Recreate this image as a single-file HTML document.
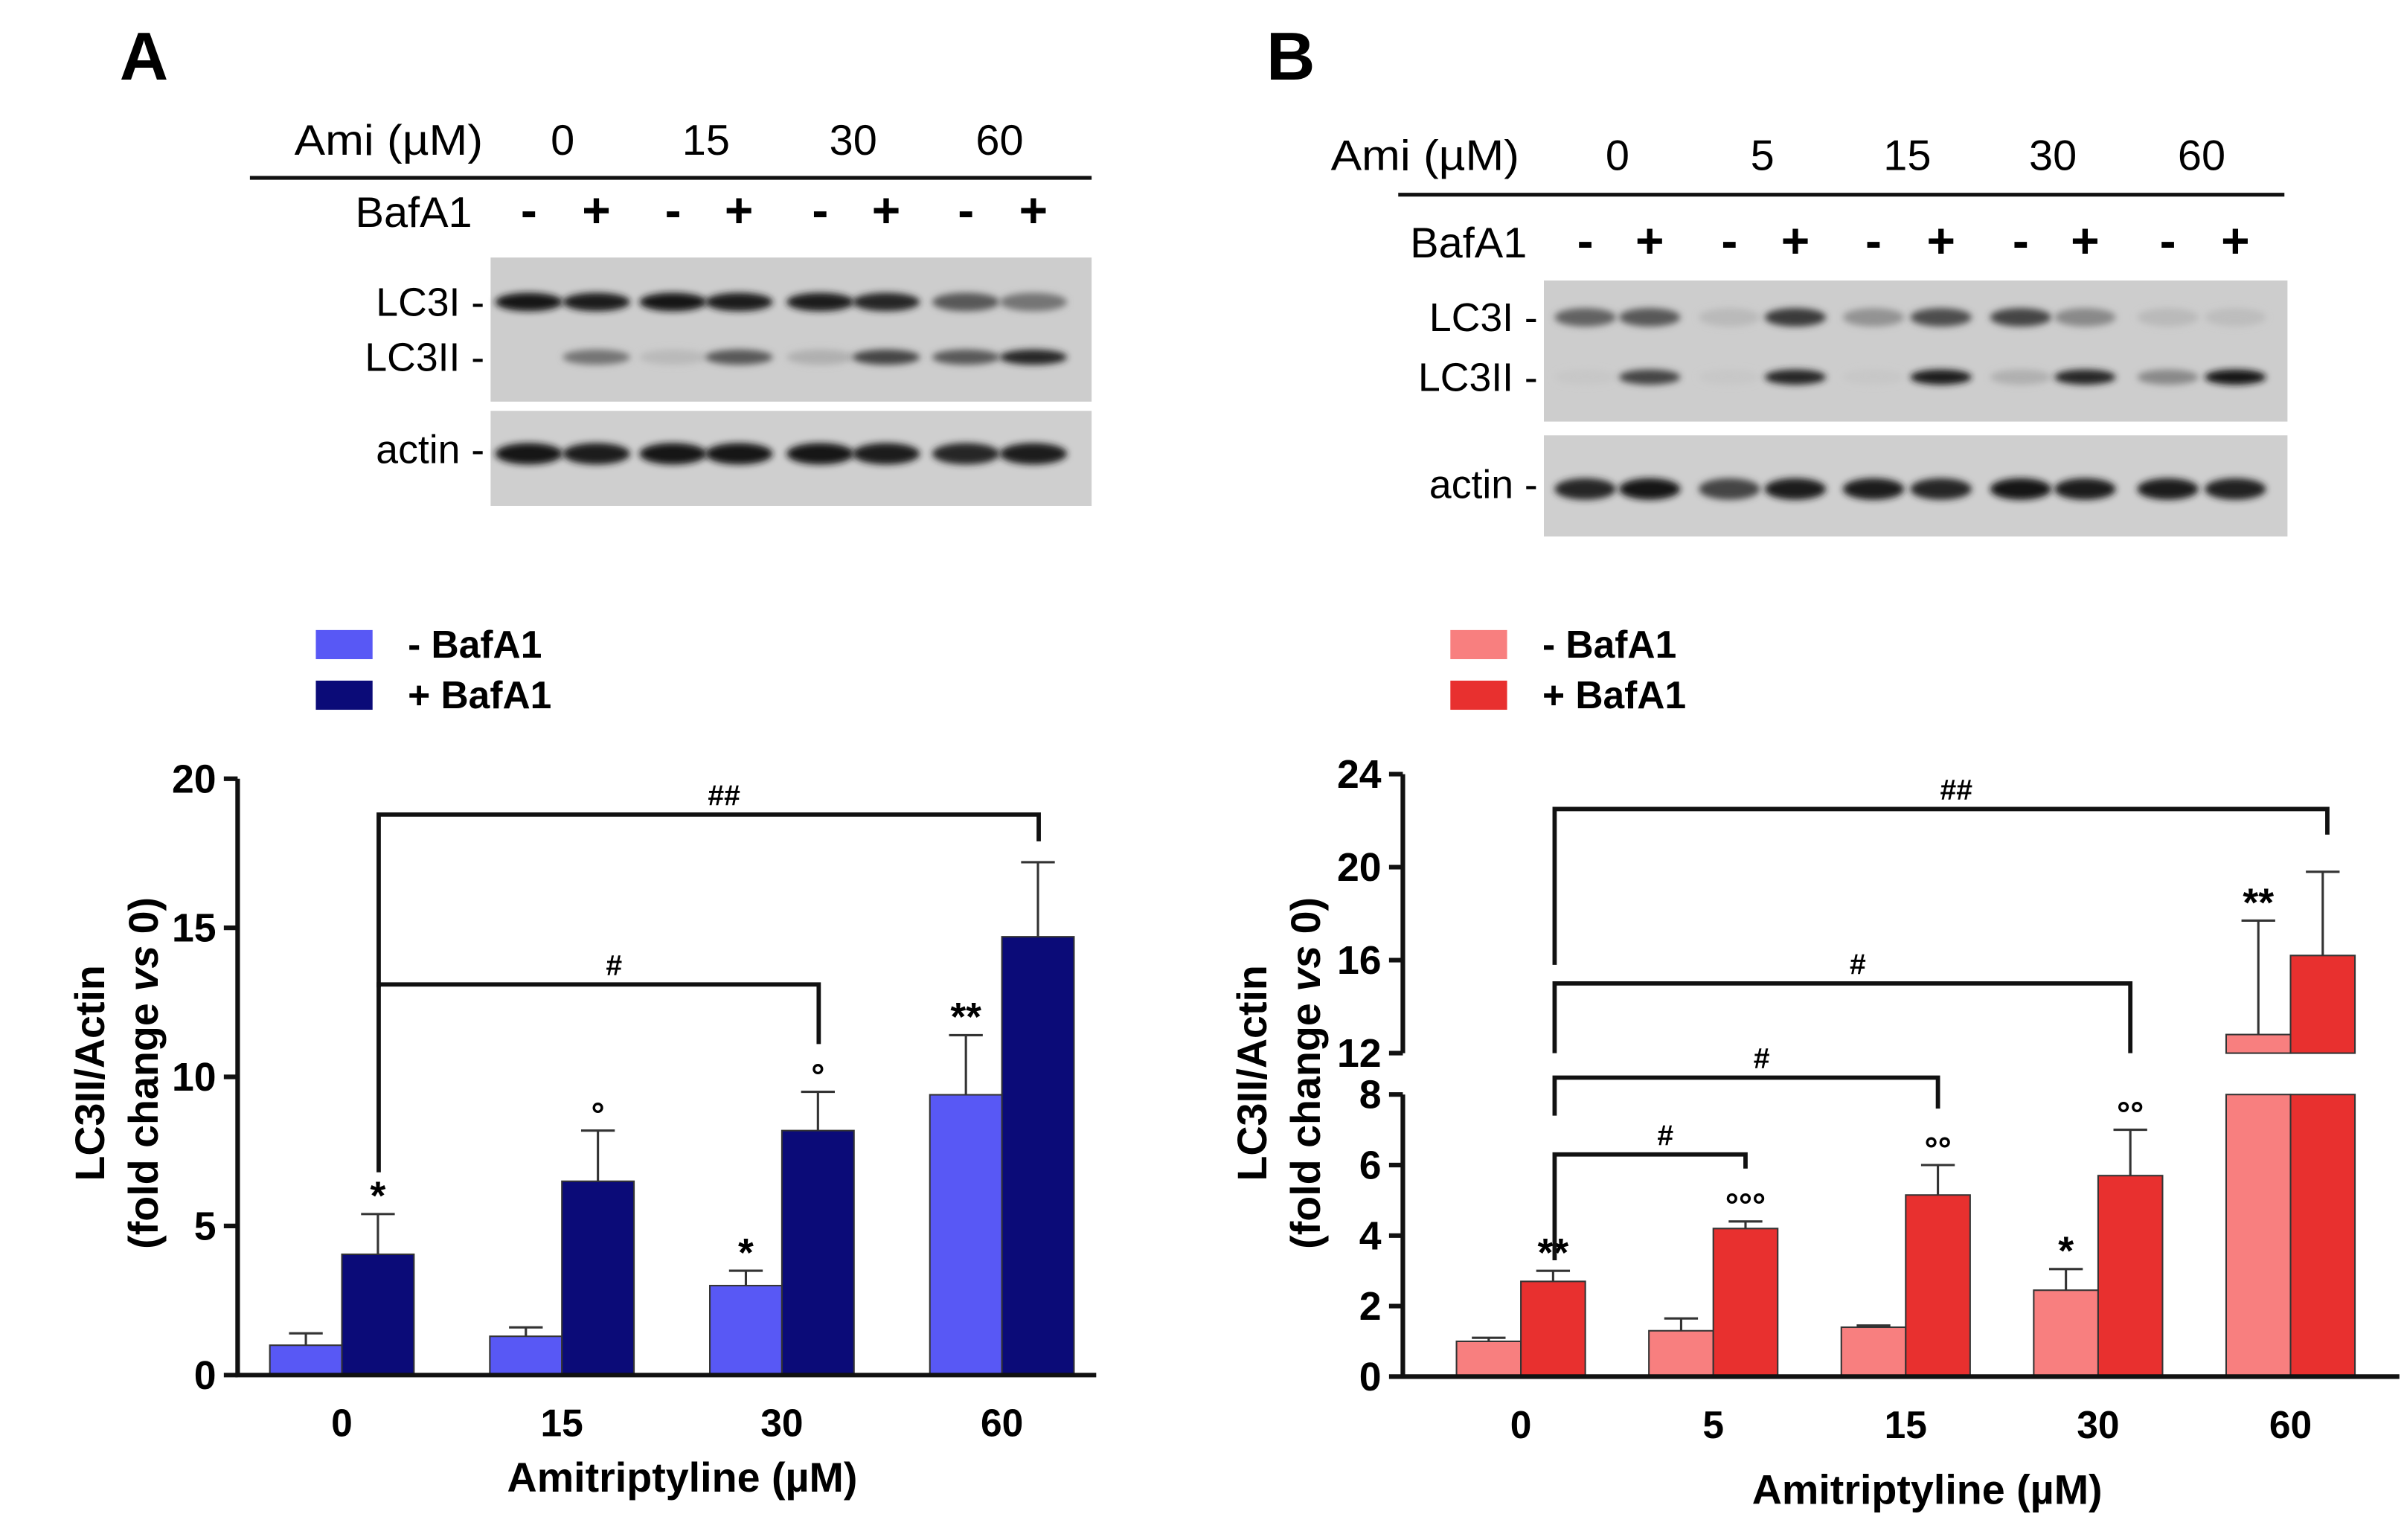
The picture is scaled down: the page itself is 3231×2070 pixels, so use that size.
<!DOCTYPE html>
<html><head><meta charset="utf-8">
<style>
html,body{margin:0;padding:0;background:#fff;}
svg{display:block;}
text{font-family:"Liberation Sans",Arial,sans-serif;}
.b{font-weight:bold;}
</style></head>
<body>
<svg id="fig" width="3231" height="2070" viewBox="0 0 1568 1004.6" preserveAspectRatio="none" xmlns="http://www.w3.org/2000/svg">
<defs>
<filter id="blur" x="-50%" y="-100%" width="200%" height="300%"><feGaussianBlur stdDeviation="2.2"/></filter>
</defs>
<text x="78" y="52" font-size="44" class="b">A</text>
<text x="826" y="52" font-size="44" class="b">B</text>
<g id="blotA"></g>
<g id="blotB"></g>
<g id="chartA"></g>
<g id="chartB"></g>
</svg>
<script>
// ---- Chart A data ----
const catsA = ["0","15","30","60"];
const lightA = [1.0, 1.3, 3.0, 9.4];
const lightErrA = [0.4, 0.3, 0.5, 2.0];
const darkA = [4.05, 6.5, 8.2, 14.7];
const darkErrA = [1.35, 1.7, 1.3, 2.5];
const ticksA = [0,5,10,15,20];
const markLightA = ["", "", "*", "**"];
const markDarkA = ["*", "°", "°", ""];
// ---- Chart B data ----
const catsB = ["0","5","15","30","60"];
const lightB = [1.0, 1.3, 1.4, 2.45, 12.8];
const lightErrB = [0.1, 0.35, 0.05, 0.6, 4.9];
const darkB = [2.7, 4.2, 5.15, 5.7, 16.2];
const darkErrB = [0.3, 0.2, 0.85, 1.3, 3.6];
const ticksBLow = [0,2,4,6,8];
const ticksBHigh = [12,16,20,24];
const markLightB = ["", "", "", "*", "**"];
const markDarkB = ["**", "°°°", "°°", "°°", ""];
// ---- blot band intensities (0..1) ----
const lc3iA = [0.95,0.9,0.95,0.9,0.9,0.85,0.6,0.45];
const lc3iiA = [0.0,0.45,0.1,0.6,0.15,0.7,0.6,0.85];
const actinA = [0.95,0.9,0.95,0.95,0.95,0.9,0.85,0.9];
const lc3iB = [0.55,0.6,0.1,0.75,0.3,0.65,0.7,0.35,0.1,0.08];
const lc3iiB = [0.03,0.7,0.03,0.85,0.03,0.9,0.15,0.85,0.35,0.95];
const actinB = [0.85,0.95,0.7,0.9,0.9,0.85,0.95,0.92,0.9,0.88];

const NS="http://www.w3.org/2000/svg";
function mk(tag, attrs, parent){const e=document.createElementNS(NS,tag);for(const k in attrs)e.setAttribute(k,attrs[k]);parent.appendChild(e);return e;}
function txt(s, attrs, parent){const e=mk('text',attrs,parent);e.textContent=s;return e;}

// ---------- Blots ----------
function blot(g, o){
  let t=txt("Ami (µM)",{x:o.amiX,y:o.amiY,'font-size':28,textLength:o.amiW,lengthAdjust:'spacingAndGlyphs'},g);
  
  
  o.doses.forEach((d,i)=>{
    const x=(o.lanes[2*i]+o.lanes[2*i+1])/2;
    let e=txt(d,{x:x,y:o.amiY,'font-size':28,'text-anchor':'middle'},g);
    
    
  });
  let ln=mk('line',{x1:o.lineX1,x2:o.lineX2,y1:o.lineY,y2:o.lineY,stroke:'#111','stroke-width':2.5},g);
  
  
  t=txt("BafA1",{x:o.bafX,y:o.bafY,'font-size':28,'text-anchor':'end'},g);
  
  
  o.lanes.forEach((x,i)=>{
    let e=txt(i%2?"+":"-",{x:x,y:o.bafY,'font-size':32,'font-weight':'bold','text-anchor':'middle'},g);
    
    
  });
  let r=mk('rect',{x:o.bx,y:o.b1y,width:o.bw,height:o.b1h,fill:'#cdcdcd'},g);
  
  
  r=mk('rect',{x:o.bx,y:o.b2y,width:o.bw,height:o.b2h,fill:'#cfcfcf'},g);
  
  
  [["LC3I -",o.yI],["LC3II -",o.yII],["actin -",o.yA]].forEach(([s,y])=>{
    let e=txt(s,{x:o.bx-4,y:y+9,'font-size':26,'text-anchor':'end'},g);
    
    
  });
  const bands=[[o.I,o.yI,6],[o.II,o.yII,5],[o.A,o.yA+3,7]];
  bands.forEach(([arr,y,ry])=>{
    arr.forEach((v,i)=>{
      if(v<=0.02) return;
      const c=Math.round(205-195*v);
      let e=mk('ellipse',{cx:o.lanes[i],cy:y,rx:o.lw,ry:ry,fill:`rgb(${c},${c},${c})`,filter:'url(#blur)'},g);
      
      
    });
  });
}
blot(document.getElementById('blotA'),{
  amiX:192,amiY:101,amiW:123,doses:["0","15","30","60"],
  lanes:[345,389,439,482,535,578,630,674],
  lineX1:163,lineX2:712,lineY:116,bafX:308,bafY:148,
  bx:320,bw:392,b1y:168,b1h:94,b2y:268,b2h:62,
  yI:197,yII:233,yA:293,I:lc3iA,II:lc3iiA,A:actinA,lw:22
});
blot(document.getElementById('blotB'),{
  amiX:868,amiY:111,amiW:123,doses:["0","5","15","30","60"],
  lanes:[1034,1076,1128,1171,1222,1266,1318,1360,1414,1458],
  lineX1:912,lineX2:1490,lineY:127,bafX:996,bafY:168,
  bx:1007,bw:485,b1y:183,b1h:92,b2y:284,b2h:66,
  yI:207,yII:246,yA:316,I:lc3iB,II:lc3iiB,A:actinB,lw:20
});

// ---------- Legends ----------
function legend(g, x, y, c1, c2){
  [[c1,"- BafA1",y],[c2,"+ BafA1",y+33]].forEach(([c,s,yy])=>{
    let r=mk('rect',{x:x,y:yy,width:37,height:19,fill:c},g);
    
    
    let t=txt(s,{x:x+60,y:yy+18,'font-size':25,class:'b'},g);
    
    
  });
}

function bracket(g, x1, x2, y, l1, l2, label){
  let p=mk('path',{d:`M${x1},${l1} V${y} H${x2} V${l2}`,fill:'none',stroke:'#111','stroke-width':2.8},g);
  
  
  let t=txt(label,{x:(x1+x2)/2+10,y:y-6,'font-size':19,'text-anchor':'middle',class:'b'},g);
  
  
}

function bars(g, cats, cx, bw, yL, yD, light, lerr, dark, derr, c1, c2, mL, mD, y0){
  cats.forEach((c,i)=>{
    const x=cx(i);
    [[light[i],lerr[i],x-bw,c1,mL[i],'bar-minus-bafa1'],[dark[i],derr[i],x,c2,mD[i],'bar-plus-bafa1']].forEach(([v,e,bx,col,m,nm],k)=>{
      const segs=(k===0?yL:yD)(v);
      segs.forEach(([top,bot])=>{
        let r=mk('rect',{x:bx,y:top,width:bw,height:bot-top,fill:col,stroke:'#333','stroke-width':1},g);
        
        
      });
      const yt=segs[segs.length-1][0];
      const ye=(k===0?yL:yD)(v+e);
      const yEnd=ye[ye.length-1][0];
      let l=mk('path',{d:`M${bx+bw/2},${yt} V${yEnd} M${bx+bw/2-11},${yEnd} H${bx+bw/2+11}`,stroke:'#333','stroke-width':1.5,fill:'none'},g);
      
      
      if(m){
        let t=txt(m,{x:bx+bw/2,y:yEnd-3,'font-size':m.indexOf('*')>=0?26:22,'text-anchor':'middle',class:'b'},g);
        
        
      }
    });
    let t=txt(c,{x:x,y:y0+40,'font-size':25,'text-anchor':'middle',class:'b'},g);
    
    
  });
}

function ytitle(g, x, y){
  let t=mk('text',{transform:`translate(${x},${y}) rotate(-90)`,'font-size':27,'text-anchor':'middle',class:'b'},g);
  
  
  const a=document.createElementNS(NS,'tspan');a.setAttribute('x',0);a.setAttribute('dy',0);a.textContent="LC3II/Actin";t.appendChild(a);
  const b=document.createElementNS(NS,'tspan');b.setAttribute('x',0);b.setAttribute('dy',35);b.textContent="(fold change ";t.appendChild(b);
  const c=document.createElementNS(NS,'tspan');c.setAttribute('font-style','italic');c.textContent="vs";t.appendChild(c);
  const d=document.createElementNS(NS,'tspan');d.textContent=" 0)";t.appendChild(d);
}

// ---------- Chart A ----------
(function(){
  const g=document.getElementById('chartA');
  legend(g,206,411,'#5858f5','#0b0b78');
  const X0=155, Y0=897, Ytop=508, vmax=20;
  const y=v=>Y0-(v/vmax)*(Y0-Ytop);
  const yS=v=>[[y(v),Y0]];
  const cx=i=>223+i*143.5;
  bars(g,catsA,cx,47,yS,yS,lightA,lightErrA,darkA,darkErrA,'#5858f5','#0b0b78',markLightA,markDarkA,Y0);
  let ax=mk('path',{d:`M${X0},${Ytop} V${Y0} H715`,stroke:'#111','stroke-width':3,fill:'none'},g);
  
  
  ticksA.forEach(v=>{
    let l=mk('line',{x1:X0-9,x2:X0,y1:y(v),y2:y(v),stroke:'#111','stroke-width':3},g);
    
    
    let t=txt(String(v),{x:X0-14,y:y(v)+9,'font-size':26,'text-anchor':'end',class:'b'},g);
    
    
  });
  bracket(g,cx(0)+24,cx(3)+24,y(18.8),y(13.0),y(17.9),"##");
  bracket(g,cx(0)+24,cx(2)+24,y(13.1),y(6.8),y(11.1),"#");
  let t=txt("Amitriptyline (µM)",{x:445,y:973,'font-size':27,'text-anchor':'middle',class:'b'},g);
  
  
  ytitle(g,68,700);
})();

// ---------- Chart B ----------
(function(){
  const g=document.getElementById('chartB');
  legend(g,946,411,'#f87f7f','#e8302f');
  const X0=915, Y0=898, Y8=714, Y12=687, Y24=505;
  const yv=v=> v<=8 ? Y0-(v/8)*(Y0-Y8) : (v>=12 ? Y12-((v-12)/12)*(Y12-Y24) : Y8);
  const yS=v=> v<=8 ? [[yv(v),Y0]] : [[Y8,Y0],[yv(v),Y12]];
  const cx=i=>992+i*125.5;
  bars(g,catsB,cx,42,yS,yS,lightB,lightErrB,darkB,darkErrB,'#f87f7f','#e8302f',markLightB,markDarkB,Y0);
  let ax=mk('path',{d:`M${X0},${Y24} V${Y12} M${X0},${Y8} V${Y0} H1565`,stroke:'#111','stroke-width':3,fill:'none'},g);
  
  
  ticksBLow.concat(ticksBHigh).forEach(v=>{
    let l=mk('line',{x1:X0-9,x2:X0,y1:yv(v),y2:yv(v),stroke:'#111','stroke-width':3},g);
    
    
    let t=txt(String(v),{x:X0-14,y:yv(v)+9,'font-size':26,'text-anchor':'end',class:'b'},g);
    
    
  });
  const lx=cx(0)+22;
  bracket(g,lx,cx(4)+24,yv(22.5),yv(15.8),yv(21.4),"##");
  bracket(g,lx,cx(3)+21,yv(15.0),yv(12),yv(12),"#");
  bracket(g,lx,cx(2)+21,yv(8.0)-11,yv(7.4),yv(7.6),"#");
  bracket(g,lx,cx(1)+21,yv(6.3),yv(3.3),yv(5.9),"#");
  let t=txt("Amitriptyline (µM)",{x:1257,y:981,'font-size':27,'text-anchor':'middle',class:'b'},g);
  
  
  ytitle(g,826,700);
})();
</script>
</body></html>
